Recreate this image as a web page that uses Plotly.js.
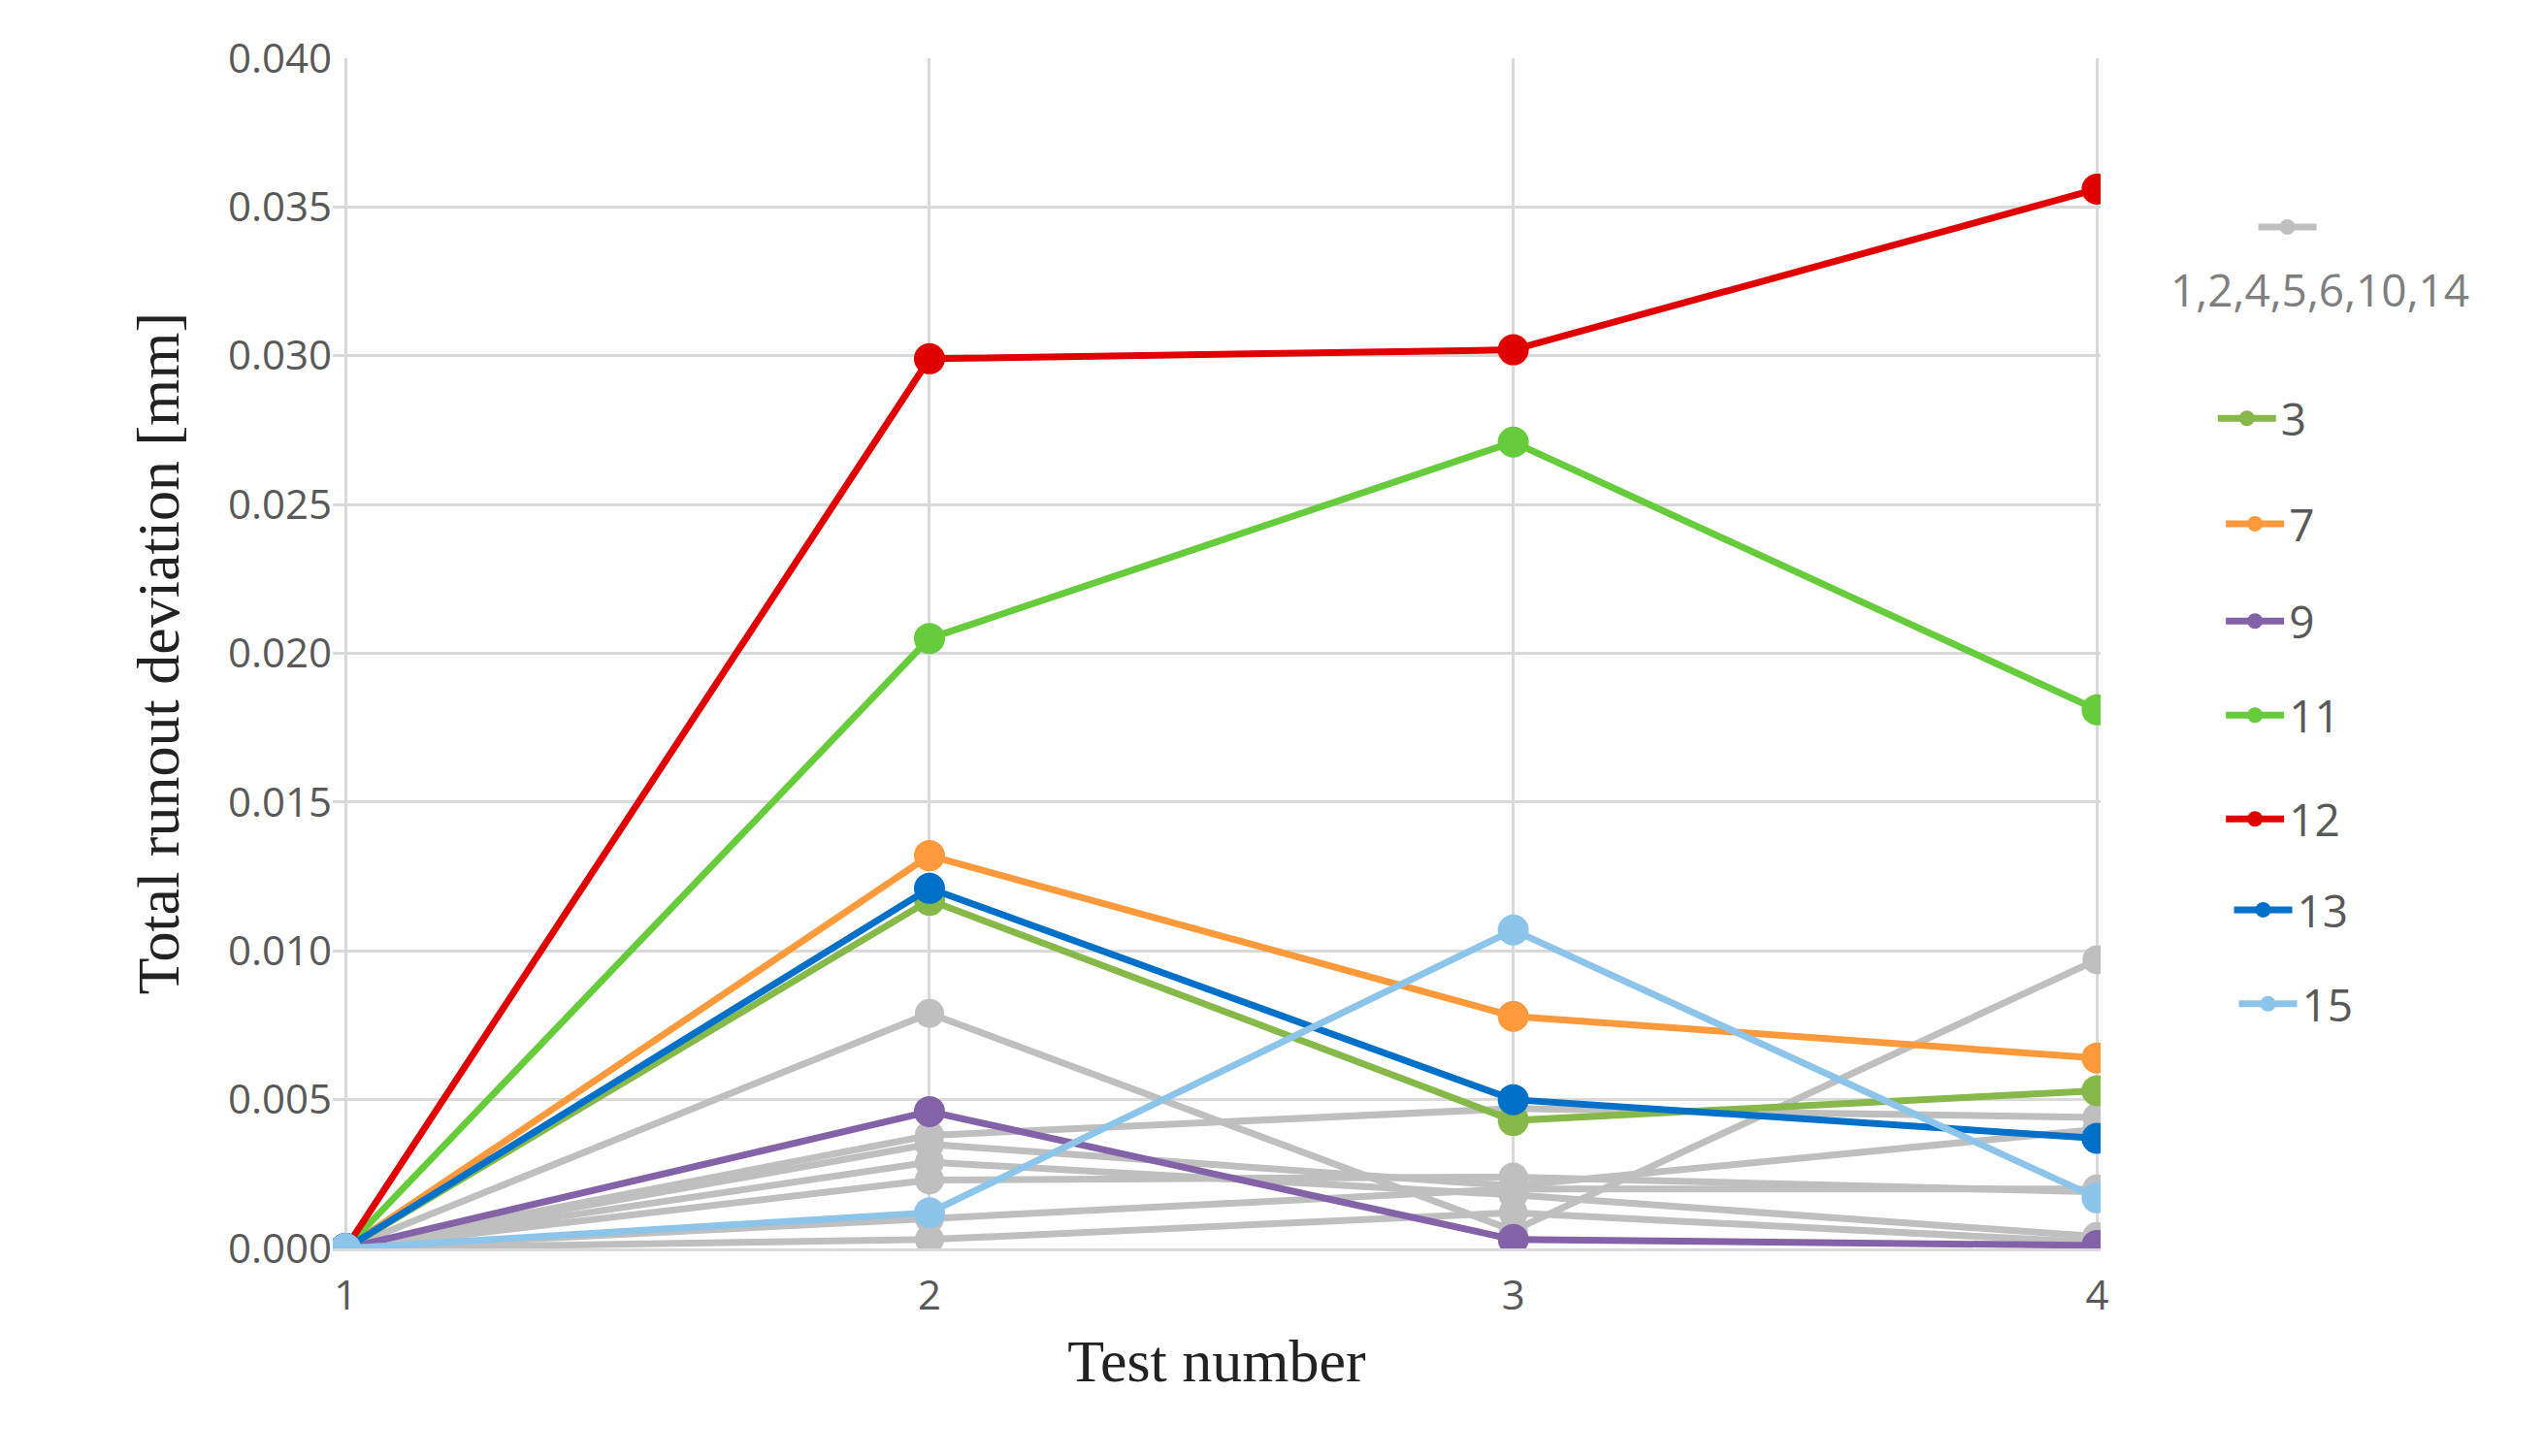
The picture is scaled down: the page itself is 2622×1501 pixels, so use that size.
<!DOCTYPE html>
<html><head><meta charset="utf-8">
<script src="https://cdn.plot.ly/plotly-3.0.1.min.js"></script>
<style>body{margin:0;background:#fff}</style></head>
<body><div id="c" style="width:2622px;height:1501px"></div>
<script>
const tests = [1, 2, 3, 4];
const grayA = [0, 0.0079, 0.0006, 0.0097];
const grayB = [0, 0.0038, 0.0047, 0.0044];
const grayC = [0, 0.0035, 0.0021, 0.0040];
const grayD = [0, 0.0029, 0.0018, 0.0004];
const grayE = [0, 0.0023, 0.0024, 0.0019];
const grayF = [0, 0.0010, 0.0020, 0.0020];
const grayG = [0, 0.0003, 0.0012, 0.0002];
const s3  = [0, 0.0117, 0.0043, 0.0053];
const s7  = [0, 0.0132, 0.0078, 0.0064];
const s9  = [0, 0.0046, 0.0003, 0.0001];
const s11 = [0, 0.0205, 0.0271, 0.0181];
const s12 = [0, 0.0299, 0.0302, 0.0356];
const s13 = [0, 0.0121, 0.0050, 0.0037];
const s15 = [0, 0.0012, 0.0107, 0.0017];
const yTicks = [0,0.005,0.010,0.015,0.020,0.025,0.030,0.035,0.040];

const grays = [grayA,grayB,grayC,grayD,grayE,grayF,grayG];
const colored = [
  {n:'3', y:s3, c:'#86b84a'},
  {n:'7', y:s7, c:'#ff9a3c'},
  {n:'9', y:s9, c:'#8462a8'},
  {n:'11', y:s11, c:'#66cc3c'},
  {n:'12', y:s12, c:'#e00000'},
  {n:'13', y:s13, c:'#0070c8'},
  {n:'15', y:s15, c:'#8cc4ea'}
];
const traces = [];
grays.forEach((g,i)=>traces.push({x:tests,y:g,mode:'lines+markers',name:' ',
  line:{color:'#bfbfbf',width:7},marker:{color:'#bfbfbf',size:30},
  showlegend:i===0, legend:'legend', hoverinfo:'skip'}));
colored.forEach((s,i)=>traces.push({x:tests,y:s.y,mode:'lines+markers',name:s.n,
  line:{color:s.c,width:7},marker:{color:s.c,size:32},
  legend:'legend'+(i+2), hoverinfo:'skip'}));
const plotTop=60, plotBot=1287;
const py = d => (plotBot - d*1.672)/(plotBot-plotTop);
const legY = [140,258,323,383,441,505,561,619];
const legX = [1400,1375,1380,1380,1380,1380,1385,1388];
const plotL = 343, plotR = 2165;
const px = d => (d*1.672 - plotL)/(plotR-plotL);
const layout = {
  width:2622, height:1501, paper_bgcolor:'#fff', plot_bgcolor:'#fff',
  margin:{l:343,r:457,t:60,b:214},
  font:{family:'Open Sans, sans-serif',color:'#595959'},
  xaxis:{range:[0.978,4.006],tickvals:tests,ticktext:['1','2','3','4'],
    showgrid:true,gridcolor:'#d9d9d9',gridwidth:3,zeroline:false,
    showline:true,linecolor:'#d9d9d9',linewidth:3,ticks:'',
    tickfont:{size:42,color:'#595959'},ticklabelstandoff:10,
    title:{text:'Test number',font:{family:'Liberation Serif, serif',size:62,color:'#222'},standoff:20}},
  yaxis:{range:[0,0.040],tickvals:yTicks,tickformat:'.3f',
    showgrid:true,gridcolor:'#d9d9d9',gridwidth:3,zeroline:false,showline:false,ticks:'',
    tickfont:{size:42,color:'#595959'},
    title:{text:'Total runout deviation [mm]',font:{family:'Liberation Serif, serif',size:62,color:'#222'},standoff:30}},
  annotations:[{xref:'paper',yref:'paper',x:px(1430),y:py(178),xanchor:'center',yanchor:'middle',
    text:'1,2,4,5,6,10,14',showarrow:false,font:{size:46,color:'#7f7f7f'}}]
};
legY.forEach((yy,i)=>{
  const key = i===0?'legend':'legend'+(i+1);
  layout[key] = {x:px(legX[i])-0.01, y:py(yy), xanchor:'left', yanchor:'middle',
    bgcolor:'rgba(0,0,0,0)', font:{size:46,color:'#595959'}, itemwidth:60};
});
Plotly.newPlot('c',traces,layout,{staticPlot:true});
</script></body></html>
